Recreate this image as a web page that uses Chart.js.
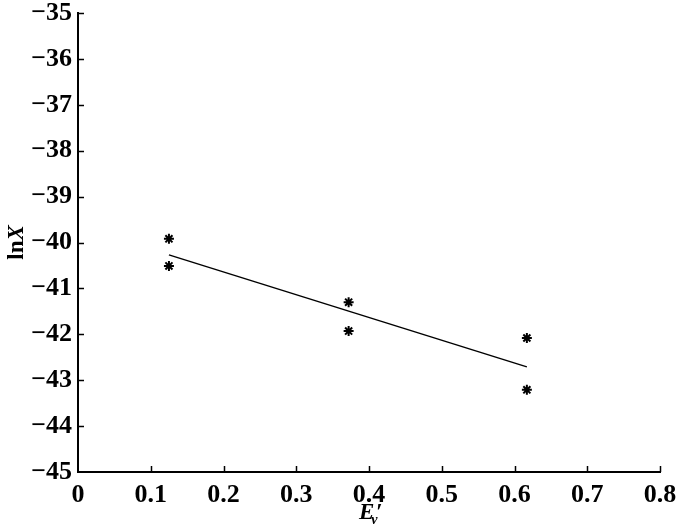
<!DOCTYPE html>
<html>
<head>
<meta charset="utf-8">
<script src="https://cdn.jsdelivr.net/npm/chart.js@4.4.0/dist/chart.umd.min.js"></script>
<style>
    html, body { margin: 0; padding: 0; background: #fff; }
    #wrap { width: 700px; height: 532px; }
</style>
</head>
<body>
<div id="wrap"><canvas id="chart"></canvas></div>
<script>
// measured points (E_v', lnX)
const pointX = [0.125, 0.125, 0.372, 0.372, 0.617, 0.617];
const pointY = [-39.92, -40.51, -41.30, -41.93, -42.08, -43.21];
// fitted line end points
const fitX = [0.125, 0.617];
const fitY = [-40.27, -42.71];

const xTicks = [0, 0.1, 0.2, 0.3, 0.4, 0.5, 0.6, 0.7, 0.8];
const yTicks = [-45, -44, -43, -42, -41, -40, -39, -38, -37, -36, -35];

const FONT = '"Liberation Serif", "DejaVu Serif", serif';

// inward tick marks and axis titles with mixed styles
const decorPlugin = {
    id: 'decor',
    afterDraw(chart) {
        const ctx = chart.ctx;
        const xs = chart.scales.x, ys = chart.scales.y;
        const area = chart.chartArea;
        ctx.save();
        ctx.strokeStyle = '#000';
        ctx.lineWidth = 1.5;
        ctx.beginPath();
        xTicks.forEach(v => {
            const px = Math.round(xs.getPixelForValue(v)) + 0.5;
            if (v === 0) return;
            ctx.moveTo(px, area.bottom);
            ctx.lineTo(px, area.bottom - 6);
        });
        yTicks.forEach(v => {
            const py = Math.round(ys.getPixelForValue(v)) + 0.5;
            if (v === -45) return;
            ctx.moveTo(area.left, py);
            ctx.lineTo(area.left + 6, py);
        });
        ctx.stroke();

        // y title: lnX
        ctx.fillStyle = '#000';
        ctx.translate(17, (area.top + area.bottom) / 2);
        ctx.rotate(-Math.PI / 2);
        ctx.textBaseline = 'middle';
        ctx.font = 'bold 23px ' + FONT;
        const w1 = ctx.measureText('ln').width;
        ctx.font = 'italic bold 23px ' + FONT;
        const w2 = ctx.measureText('X').width;
        let sx = -(w1 + w2) / 2;
        ctx.font = 'bold 23px ' + FONT;
        ctx.textAlign = 'left';
        ctx.fillText('ln', sx, 0);
        ctx.font = 'italic bold 23px ' + FONT;
        ctx.fillText('X', sx + w1, 0);
        ctx.setTransform(1, 0, 0, 1, 0, 0);

        // x title: E_v'
        const cx = (area.left + area.right) / 2;
        const base = 519;
        ctx.textBaseline = 'alphabetic';
        ctx.textAlign = 'left';
        ctx.font = 'italic bold 23px ' + FONT;
        const we = ctx.measureText('E').width;
        const ex = cx - 10;
        ctx.fillText('E', ex, base);
        ctx.font = 'italic bold 14px ' + FONT;
        ctx.fillText('v', ex + we - 3, base + 5);
        ctx.font = 'bold 23px ' + FONT;
        ctx.fillText('\u2032', ex + we + 2, base);
        ctx.restore();
    }
};

const ctx = document.getElementById('chart').getContext('2d');
new Chart(ctx, {
    type: 'scatter',
    data: {
        datasets: [
            {
                data: pointX.map((x, i) => ({ x, y: pointY[i] })),
                pointStyle: 'star',
                pointRadius: 5,
                pointBorderWidth: 2,
                borderColor: '#000',
                backgroundColor: '#000',
                pointHoverRadius: 5
            },
            {
                type: 'line',
                data: fitX.map((x, i) => ({ x, y: fitY[i] })),
                borderColor: '#000',
                borderWidth: 1.5,
                pointRadius: 0,
                fill: false
            }
        ]
    },
    options: {
        responsive: true,
        maintainAspectRatio: false,
        animation: false,
        events: [],
        layout: { padding: { top: 13, right: 40, left: 0, bottom: 0 } },
        plugins: {
            legend: { display: false },
            tooltip: { enabled: false }
        },
        scales: {
            x: {
                type: 'linear',
                min: 0, max: 0.8,
                afterBuildTicks: s => { s.ticks = xTicks.map(v => ({ value: v })); },
                afterFit: s => { s.height = 60; s.paddingLeft = 0; s.paddingRight = 0; },
                grid: { display: false, drawTicks: false },
                border: { display: true, color: '#000', width: 2 },
                ticks: {
                    padding: 8,
                    color: '#000',
                    font: { family: FONT, size: 26, weight: 'bold' },
                    callback: v => v === 0 ? '0' : v.toFixed(1)
                }
            },
            y: {
                type: 'linear',
                min: -45, max: -35,
                afterBuildTicks: s => { s.ticks = yTicks.map(v => ({ value: v })); },
                afterFit: s => { s.width = 78; s.paddingTop = 0; s.paddingBottom = 0; },
                grid: { display: false, drawTicks: false },
                border: { display: true, color: '#000', width: 2 },
                ticks: {
                    padding: 6,
                    color: '#000',
                    font: { family: FONT, size: 26, weight: 'bold' },
                    callback: v => String(v).replace('-', '\u2212')
                }
            }
        }
    },
    plugins: [decorPlugin]
});
</script>
</body>
</html>
